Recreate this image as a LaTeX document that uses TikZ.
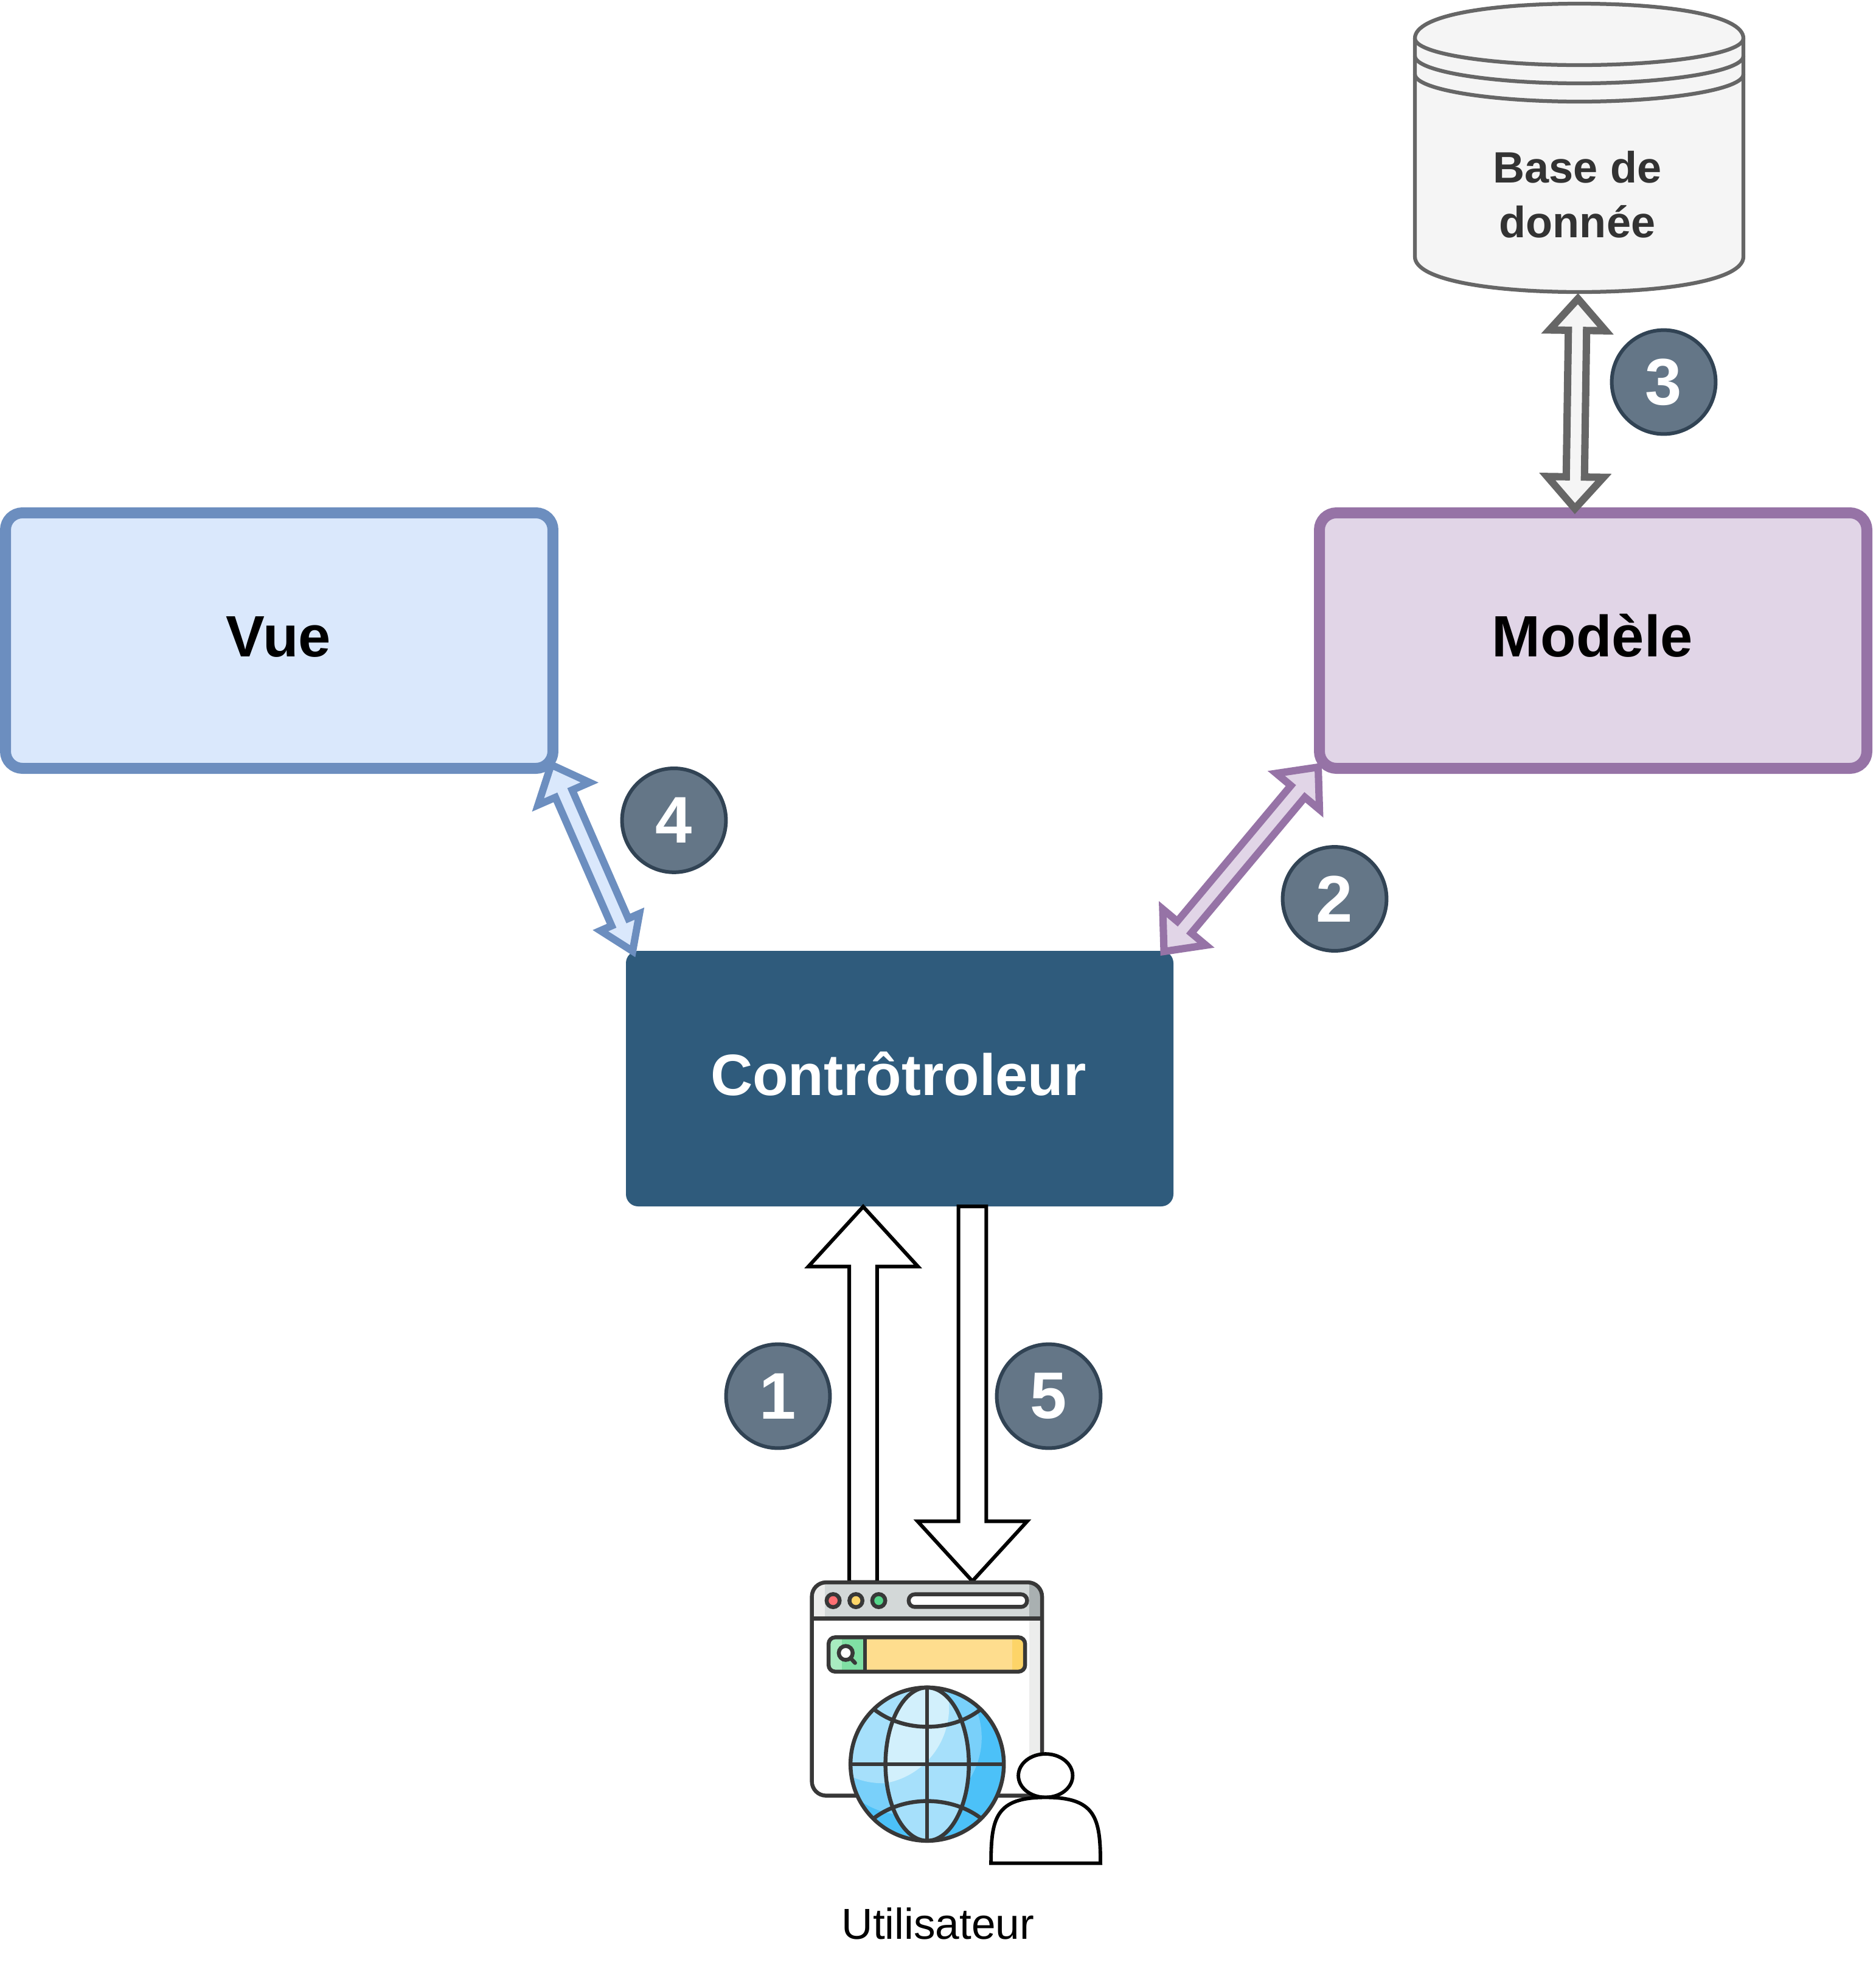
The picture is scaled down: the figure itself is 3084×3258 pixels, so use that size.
\documentclass[tikz,border=0pt]{standalone}
\usepackage{fontspec}
\usepackage{tikz}
\usetikzlibrary{calc}
\setmainfont{Liberation Sans}

\definecolor{vuefill}{HTML}{DAE8FC}
\definecolor{vueline}{HTML}{6C8EBF}
\definecolor{modfill}{HTML}{E1D5E7}
\definecolor{modline}{HTML}{9673A6}
\definecolor{ctrlfill}{HTML}{2F5B7C}
\definecolor{dbfill}{HTML}{F5F5F5}
\definecolor{dbline}{HTML}{666666}
\definecolor{dbtext}{HTML}{333333}
\definecolor{badgefill}{HTML}{647687}
\definecolor{badgeline}{HTML}{314354}
\definecolor{iconline}{HTML}{383838}

\tikzset{
  mainbox/.style={rectangle,rounded corners=6.7pt,line width=4.32pt,minimum width=216pt,minimum height=100.8pt},
  boxtext/.style={anchor=base,font=\fontsize{23}{28}\selectfont\bfseries},
  badge/.style={circle,fill=badgefill,draw=badgeline,line width=1.44pt,minimum size=41pt,inner sep=0pt,text=white,font=\fontsize{26}{30}\selectfont\bfseries},
  icon/.style={draw=iconline,line width=1.55pt},
  dbedge/.style={draw=dbline,line width=1.5pt},
}

% tip at both ends, optional half width of the second tip
\newcommand{\dblarrow}[4][11.1pt]{
  \path #3 coordinate (arrA) #4 coordinate (arrB);
  \draw[line width=2.9pt,miter limit=10,#2] (arrA)
    -- ($(arrA)!12.5pt!(arrB)!11.1pt!90:(arrB)$) -- ($(arrA)!12.5pt!(arrB)!3.6pt!90:(arrB)$)
    -- ($(arrB)!12.5pt!(arrA)!3.6pt!-90:(arrA)$) -- ($(arrB)!12.5pt!(arrA)!#1!-90:(arrA)$)
    -- (arrB)
    -- ($(arrB)!12.5pt!(arrA)!#1!90:(arrA)$) -- ($(arrB)!12.5pt!(arrA)!3.6pt!90:(arrA)$)
    -- ($(arrA)!12.5pt!(arrB)!3.6pt!-90:(arrB)$) -- ($(arrA)!12.5pt!(arrB)!11.1pt!-90:(arrB)$)
    -- cycle;
}
% tip at the end only
\newcommand{\sglarrow}[2]{
  \path #1 coordinate (arrA) #2 coordinate (arrB);
  \draw[line width=1.44pt,fill=white] ($(arrA)!5.5pt!90:(arrB)$)
    -- ($(arrB)!23.6pt!(arrA)!5.5pt!-90:(arrA)$) -- ($(arrB)!23.6pt!(arrA)!21.6pt!-90:(arrA)$)
    -- (arrB)
    -- ($(arrB)!23.6pt!(arrA)!21.6pt!90:(arrA)$) -- ($(arrB)!23.6pt!(arrA)!5.5pt!90:(arrA)$)
    -- ($(arrA)!5.5pt!-90:(arrB)$) -- cycle;
}

\begin{document}
\begin{tikzpicture}[x=0.24pt,y=-0.24pt]
\useasboundingbox (0,0) rectangle (3084,3258);

\node[mainbox,draw=vueline,fill=vuefill] (vue) at (459,1053) {};
\node[boxtext] (vuetext) at (458,1079.5) {Vue};
\node[mainbox,draw=modline,fill=modfill] (model) at (2619,1053) {};
\node[boxtext] (modeltext) at (2618,1079.5) {Modèle};
\node[rectangle,rounded corners=4.8pt,fill=ctrlfill,minimum width=216pt,minimum height=100.8pt,outer sep=0pt] (ctrl) at (1479,1773) {};
\node[boxtext,text=white] (ctrltext) at (1477,1800) {Contrôtroleur};

% base de donnee
\draw[dbedge,fill=dbfill] (2326,63) .. controls (2326,25) and (2450,6) .. (2596,6)
  .. controls (2742,6) and (2866,25) .. (2866,63) -- (2866,422)
  .. controls (2866,460) and (2742,480) .. (2596,480) .. controls (2450,480) and (2326,460) .. (2326,422) -- cycle;
\draw[dbedge] (2326,63) .. controls (2326,88) and (2450,107) .. (2596,107) .. controls (2742,107) and (2866,88) .. (2866,63);
\draw[dbedge] (2326,92) .. controls (2326,117) and (2450,137) .. (2596,137) .. controls (2742,137) and (2866,117) .. (2866,92);
\draw[dbedge] (2326,122) .. controls (2326,147) and (2450,167) .. (2596,167) .. controls (2742,167) and (2866,147) .. (2866,122);
\node[align=center,text=dbtext,font=\fontsize{17.3}{21.6}\selectfont\bfseries] (dbase) at (2593,320) {Base de\\donnée};
\coordinate (dbbottom) at (2594,491);

\dblarrow{draw=dbline,fill=dbfill}{(dbbottom)}{($(model.north)+(-30,2)$)}
\dblarrow{draw=modline,fill=modfill}{($(model.south west)+(7,-11)$)}{($(ctrl.north east)+(-15.5,1)$)}
\dblarrow[8.4pt]{draw=vueline,fill=vuefill}{($(vue.south east)+(-12,-15)$)}{($(ctrl.north west)+(11,0.5)$)}

% navigateur
\node[rectangle,minimum width=90.7pt,minimum height=84.3pt] (browser) at (1524,2777) {};
\sglarrow{($(ctrl.south)+(119.5,0)$)}{($(browser.north)+(74.5,-1.5)$)}
\sglarrow{($(browser.north)+(-105,0)$)}{($(ctrl.south)+(-60,0.5)$)}
\begin{scope}[shift={(1280,2560)},scale=0.357]
\begin{scope}
\clip[rounded corners=5.6pt] (153,115) rectangle (1213,1097);
\fill[white] (153,115) rectangle (1213,1097);
\fill[fill={rgb,255:red,236;green,237;blue,236}] (1154,282) rectangle (1213,1097);
\fill[fill={rgb,255:red,211;green,216;blue,216}] (153,115) rectangle (1213,282);
\fill[fill={rgb,255:red,236;green,237;blue,236}] (153,115) rectangle (213,282);
\fill[fill={rgb,255:red,169;green,176;blue,177}] (1154,115) rectangle (1213,282);
\end{scope}
\draw[icon,rounded corners=5.6pt] (153,115) rectangle (1213,1097);
\draw[icon] (153,282) -- (1213,282);
\filldraw[icon,fill={rgb,255:red,255;green,111;blue,115}] (251,199) circle (30);
\filldraw[icon,fill={rgb,255:red,253;green,213;blue,104}] (356,199) circle (30);
\filldraw[icon,fill={rgb,255:red,85;green,214;blue,138}] (461,199) circle (30);
\filldraw[icon,fill=white,rounded corners=2.4pt] (599,170) rectangle (1144,228);
% barre de recherche
\begin{scope}
\clip[rounded corners=2.6pt] (230,368) rectangle (1135,526);
\fill[fill={rgb,255:red,254;green,221;blue,142}] (398,368) rectangle (1135,526);
\fill[fill={rgb,255:red,253;green,212;blue,104}] (1075,368) rectangle (1135,526);
\fill[fill={rgb,255:red,128;green,224;blue,164}] (230,368) rectangle (398,526);
\fill[fill={rgb,255:red,168;green,236;blue,192}] (230,368) rectangle (290,526);
\end{scope}
\draw[icon,rounded corners=2.6pt] (230,368) rectangle (1135,526);
\draw[icon] (398,368) -- (398,526);
\filldraw[icon,fill=white] (309,440) circle (32);
\draw[icon,line cap=round] (335,468) -- (352,486);
% globe
\begin{scope}
\clip (684,952) circle (353);
\fill[fill={rgb,255:red,76;green,193;blue,248}] (684,952) circle (353);
\fill[fill={rgb,255:red,121;green,208;blue,250}] (580,830) circle (355);
\begin{scope}
\clip (331,599) rectangle (684,1305);
\fill[fill={rgb,255:red,166;green,224;blue,251}] (480,680) circle (360);
\end{scope}
\fill[fill={rgb,255:red,166;green,224;blue,251}] (684,952) ellipse (192 and 353);
\begin{scope}
\clip (684,952) ellipse (192 and 353);
\fill[fill={rgb,255:red,210;green,240;blue,252}] (430,690) circle (355);
\end{scope}
\end{scope}
\draw[icon] (684,952) circle (353);
\draw[icon] (684,952) ellipse (192 and 353);
\draw[icon] (331,952) -- (1037,952);
\draw[icon] (684,599) -- (684,1305);
\draw[icon] (440,700) .. controls (510,755) and (600,780) .. (684,780) .. controls (770,780) and (860,755) .. (930,700);
\draw[icon] (440,1200) .. controls (510,1147) and (600,1122) .. (684,1122) .. controls (770,1122) and (860,1147) .. (930,1200);
% personne
\draw[line width=1.4pt,fill=white] (1229,1005) ellipse (125 and 100);
\draw[line width=1.4pt,fill=white] (978,1408) .. controls (978,1200) and (1000,1105) .. (1229,1105)
  .. controls (1460,1105) and (1482,1200) .. (1482,1408) -- cycle;
\end{scope}
\node[anchor=base,font=\fontsize{17.1}{20}\selectfont] (user) at (1542,3187) {Utilisateur};

\node[badge] (num1) at (1279,2295) {1};
\node[badge] (num2) at (2194,1477.5) {2};
\node[badge] (num3) at (2735,628) {3};
\node[badge] (num4) at (1108,1348.4) {4};
\node[badge] (num5) at (1724,2295) {5};
\end{tikzpicture}
\end{document}
